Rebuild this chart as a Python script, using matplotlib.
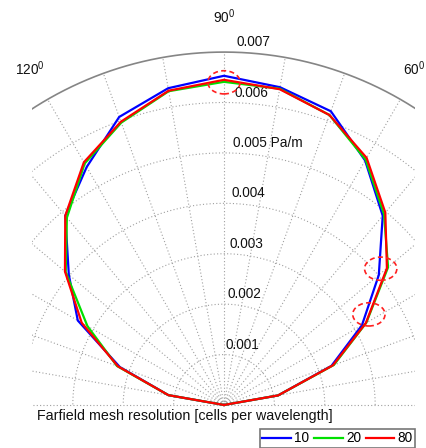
import numpy as np
import matplotlib
matplotlib.use('Agg')
import matplotlib.pyplot as plt
from matplotlib.patches import Ellipse

plt.rcParams['font.family'] = ['Liberation Sans', 'DejaVu Sans']
plt.rcParams['mathtext.default'] = 'regular'

# Farfield pressure vs angle (deg), Pa/m
angles = np.arange(0, 181, 10)
res_10 = [0.0, 0.00109, 0.00227, 0.00316, 0.00401, 0.00490, 0.00560, 0.00620, 0.00640, 0.00653,
          0.00638, 0.00608, 0.00545, 0.00490, 0.00402, 0.00335, 0.00220, 0.00112, 0.0]
res_20 = [0.0, 0.00109, 0.00232, 0.00326, 0.00425, 0.00494, 0.00562, 0.00612, 0.00637, 0.00641,
          0.00632, 0.00596, 0.00553, 0.00485, 0.00410, 0.00313, 0.00226, 0.00112, 0.0]
res_80 = [0.0, 0.00109, 0.00230, 0.00325, 0.00422, 0.00498, 0.00566, 0.00612, 0.00636, 0.00645,
          0.00633, 0.00598, 0.00556, 0.00490, 0.00412, 0.00326, 0.00224, 0.00112, 0.0]
series = [('10', res_10, '#0000ff'), ('20', res_20, '#00e000'), ('80', res_80, '#ff0000')]

ring_vals = [0.001, 0.002, 0.003, 0.004, 0.005, 0.006]
ring_labels = ['0.001', '0.002', '0.003', '0.004', '0.005 Pa/m', '0.006', '0.007']
rmax = 0.007
spoke_angles = np.arange(0, 181, 10)
angle_labels = [60, 90, 120]

# highlighted spots (angle deg, radius)
highlights = [(90, 0.0064), (41, 0.00412), (32, 0.00339)]

fig = plt.figure(figsize=(4.27, 4.48), dpi=100)
ax = fig.add_axes([32.5 / 427, 38 / 448, 383 / 427, 368 / 448])
ax.set_xlim(-0.0038, 0.0038)
ax.set_ylim(-0.0001, 0.0072)
ax.axis('off')

t = np.linspace(0, np.pi, 400)
grid_kw = dict(color='#a0a0a0', lw=0.8, linestyle=(0, (1, 2)), zorder=1)
for r in ring_vals:
    ax.plot(r * np.cos(t), r * np.sin(t), **grid_kw)
ax.plot(rmax * np.cos(t), rmax * np.sin(t), color='#858585', lw=1.2, zorder=1)
for a in np.deg2rad(spoke_angles):
    ax.plot([0, rmax * np.cos(a)], [0, rmax * np.sin(a)], **grid_kw)

# radial labels
a_lab = np.deg2rad(88)
for r, lab in zip(ring_vals + [rmax], ring_labels):
    rr = r + 0.00006
    ax.text(rr * np.cos(a_lab), rr * np.sin(a_lab), lab, ha='left', va='bottom',
            fontsize=9.8, color='#111111', zorder=3)

# angle labels
for d in angle_labels:
    rr = 1.1 * rmax
    x, y = rr * np.cos(np.deg2rad(d)), rr * np.sin(np.deg2rad(d))
    ha = 'center'
    if d == 60:
        x, ha = 0.00399, 'right'
    ax.text(x, y, '%d$^0$' % d, ha=ha, va='center', fontsize=9.8,
            color='#111111', clip_on=False)

th = np.deg2rad(angles)
handles = []
for name, vals, col in series:
    v = np.array(vals)
    h, = ax.plot(v * np.cos(th), v * np.sin(th), color=col, lw=1.6, label=name, zorder=4)
    handles.append(h)

for d, r in highlights:
    a = np.deg2rad(d)
    ax.add_patch(Ellipse((r * np.cos(a), r * np.sin(a)), 0.00064, 0.00046, fill=False,
                         edgecolor='#ff2020', lw=1.2, linestyle=(0, (3, 2)), zorder=5))

fig.text(37 / 427, 1 - 416 / 448, 'Farfield mesh resolution [cells per wavelength]',
         ha='left', va='center', fontsize=10.3, color='#111111')

leg = fig.legend(handles=handles, loc='lower right', bbox_to_anchor=(415 / 427, 0.5 / 448),
                 ncol=3, fontsize=9.8, frameon=True, fancybox=False, handlelength=2.1,
                 handletextpad=0.25, columnspacing=0.35, borderpad=0.15, borderaxespad=0)
leg.get_frame().set_edgecolor('#555555')
leg.get_frame().set_linewidth(1.2)

fig.savefig('out.png', dpi=100)
